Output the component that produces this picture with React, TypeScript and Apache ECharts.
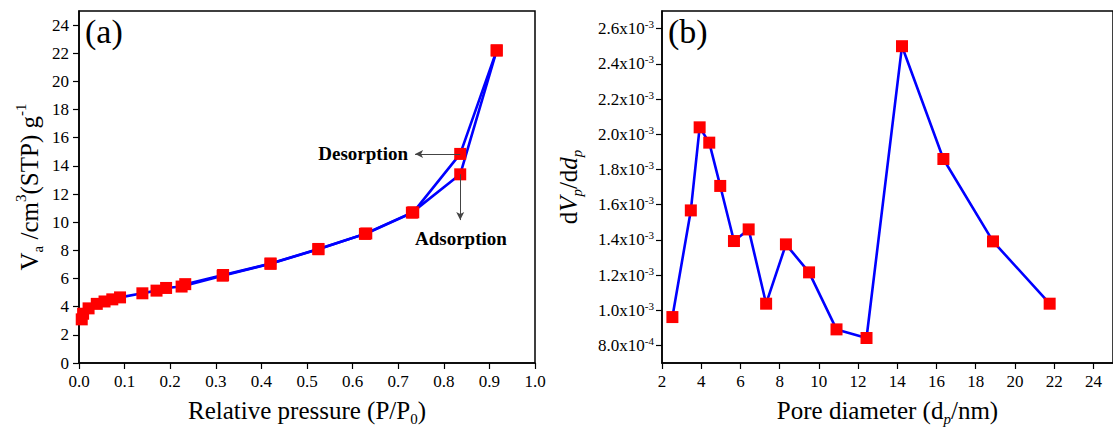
import React, { useEffect, useRef } from 'react';
import * as echarts from 'echarts';

// Panel (a): N2 isotherm, [P/P0, Va]
const adsorption: [number, number][] = [
  [0.006, 3.1], [0.009, 3.5], [0.021, 3.88], [0.039, 4.2], [0.056, 4.37], [0.073, 4.52],
  [0.09, 4.66], [0.139, 4.95], [0.17, 5.14], [0.191, 5.33], [0.225, 5.43], [0.315, 6.2],
  [0.42, 7.05], [0.525, 8.08], [0.627, 9.17], [0.73, 10.68], [0.836, 13.4], [0.916, 22.2],
];
const desorption: [number, number][] = [
  [0.916, 22.2], [0.836, 14.85], [0.733, 10.7], [0.63, 9.2], [0.525, 8.1], [0.42, 7.06],
  [0.316, 6.25], [0.233, 5.6],
];
// Panel (b): pore size distribution
const poreDiameter: number[] = [2.53, 3.47, 3.92, 4.41, 4.97, 5.67, 6.42, 7.31, 8.32, 9.5, 10.9, 12.43, 14.24, 16.35, 18.88, 21.77];
const dVdd: number[] = [0.000961, 0.001567, 0.002039, 0.001952, 0.001706, 0.001393, 0.001459, 0.001037, 0.001374, 0.001215, 0.000891, 0.000842, 0.0025, 0.001859, 0.001391, 0.001037];

const yTicksA: number[] = [0, 2, 4, 6, 8, 10, 12, 14, 16, 18, 20, 22, 24];
const xTicksB: number[] = [2, 4, 6, 8, 10, 12, 14, 16, 18, 20, 22, 24];
const yTicksB: number[] = [0.0008, 0.001, 0.0012, 0.0014, 0.0016, 0.0018, 0.002, 0.0022, 0.0024, 0.0026];

const desorptionArrow = { from: [0.836, 14.85], to: [0.737, 14.85] };
const adsorptionArrow = { from: [0.836, 13.4], to: [0.836, 10.15] };

const FONT = 'Liberation Serif, serif';
const BLUE = '#0000ff';
const RED = '#ff0000';

const axisCommon = {
  axisLine: { show: true, onZero: false, lineStyle: { color: '#000', width: 1.5 } },
  axisTick: { show: true, inside: false, length: 6, lineStyle: { color: '#000', width: 1.2 } },
  splitLine: { show: false },
};

const NS = 25;
const SS = 15;
const LH = 32;
const nameRich = {
  m: { fontFamily: FONT, fontSize: NS, color: '#000', lineHeight: LH },
  i: { fontFamily: FONT, fontSize: NS, color: '#000', fontStyle: 'italic', lineHeight: LH },
  sub: { fontFamily: FONT, fontSize: SS, color: '#000', verticalAlign: 'bottom', lineHeight: LH },
  subi: { fontFamily: FONT, fontSize: SS, color: '#000', fontStyle: 'italic', verticalAlign: 'bottom', lineHeight: LH },
  sup: { fontFamily: FONT, fontSize: SS, color: '#000', verticalAlign: 'top', lineHeight: LH },
};

function sci(v: number): string {
  const e = Math.floor(Math.log10(v) + 1e-9);
  const m = v / Math.pow(10, e);
  return `{m|${m.toFixed(1)}x10}{s|${e}}`;
}

export default function App() {
  const ref = useRef<HTMLDivElement>(null);
  useEffect(() => {
    document.body.style.margin = '0';
    const chart = echarts.init(ref.current!, null, { renderer: 'svg' });
    const lineSeries = (name: string, data: any, xi: number) => ({
      name,
      type: 'line',
      xAxisIndex: xi,
      yAxisIndex: xi,
      data,
      symbol: 'rect',
      symbolSize: 12,
      itemStyle: { color: RED },
      lineStyle: { color: BLUE, width: 2.6 },
      z: 3,
    });
    const arrowLine = (a: { from: number[]; to: number[] }) => [{ coord: a.from }, { coord: a.to }];
    const tickLabel = { fontFamily: FONT, fontSize: 17, color: '#000' };
    const arrowMark = (a: { from: number[]; to: number[] }) => ({
      silent: true,
      symbol: ['none', 'arrow'],
      symbolSize: [6, 8],
      label: { show: false },
      lineStyle: { color: '#444', width: 1, type: 'solid' },
      data: [arrowLine(a)],
    });
    chart.setOption({
      animation: false,
      textStyle: { fontFamily: FONT },
      grid: [
        { left: 79, right: 578, top: 11, bottom: 69, show: true, borderColor: '#000', borderWidth: 1.5, containLabel: false },
        { left: 662, right: -7, top: 11, bottom: 69, show: true, borderColor: '#000', borderWidth: 1.5, containLabel: false },
      ],
      xAxis: [
        {
          ...axisCommon,
          gridIndex: 0,
          type: 'value',
          min: 0,
          max: 1,
          interval: 0.1,
          axisLabel: { ...tickLabel, margin: 10, formatter: (v: number) => v.toFixed(1) },
          name: '{m|Relative pressure (P/P}{sub|0}{m|)}',
          nameLocation: 'middle',
          nameGap: 31,
          nameTextStyle: { fontFamily: FONT, rich: nameRich },
        },
        {
          ...axisCommon,
          gridIndex: 1,
          type: 'value',
          min: 2,
          max: 25,
          axisLabel: { ...tickLabel, margin: 10, customValues: xTicksB },
          axisTick: { ...axisCommon.axisTick, customValues: xTicksB },
          name: '{m|Pore diameter (d}{subi|p}{m|/nm)}',
          nameLocation: 'middle',
          nameGap: 31,
          nameTextStyle: { fontFamily: FONT, rich: nameRich },
        },
      ],
      yAxis: [
        {
          ...axisCommon,
          gridIndex: 0,
          type: 'value',
          min: 0,
          max: 25,
          axisLabel: { ...tickLabel, margin: 10, customValues: yTicksA },
          axisTick: { ...axisCommon.axisTick, customValues: yTicksA },
          name: '{m|V}{sub|a}{m| /cm}{sup|3}{m|(STP) g}{sup|-1}',
          nameLocation: 'middle',
          nameGap: 34,
          nameRotate: 90,
          nameTextStyle: { fontFamily: FONT, rich: nameRich },
        },
        {
          ...axisCommon,
          gridIndex: 1,
          type: 'value',
          min: 0.0007,
          max: 0.0027,
          axisLabel: {
            fontFamily: FONT,
            color: '#000',
            margin: 8,
            customValues: yTicksB,
            formatter: (v: number) => sci(v),
            rich: {
              m: { fontFamily: FONT, fontSize: 17, color: '#000', lineHeight: 20 },
              s: { fontFamily: FONT, fontSize: 11, color: '#000', verticalAlign: 'top', lineHeight: 20 },
            },
          },
          axisTick: { ...axisCommon.axisTick, customValues: yTicksB },
          name: '{m|d}{i|V}{subi|p}{m|/d}{i|d}{subi|p}',
          nameLocation: 'middle',
          nameGap: 78,
          nameRotate: 90,
          nameTextStyle: { fontFamily: FONT, rich: nameRich },
        },
      ],
      series: [
        { ...lineSeries('Adsorption', adsorption, 0), markLine: arrowMark(adsorptionArrow) },
        { ...lineSeries('Desorption', desorption, 0), markLine: arrowMark(desorptionArrow) },
        lineSeries('dV/dd', poreDiameter.map((d, i) => [d, dVdd[i]]), 1),
      ],
      graphic: [
        { type: 'text', left: 85, top: 14, style: { text: '(a)', font: `34px ${FONT}`, fill: '#000' } },
        { type: 'text', left: 668, top: 14, style: { text: '(b)', font: `34px ${FONT}`, fill: '#000' } },
        { type: 'text', x: 408, y: 153, style: { text: 'Desorption', font: `bold 19px ${FONT}`, fill: '#000', align: 'right', verticalAlign: 'middle' } },
        { type: 'text', x: 415, y: 238, style: { text: 'Adsorption', font: `bold 19px ${FONT}`, fill: '#000', align: 'left', verticalAlign: 'middle' } },
      ],
    });
    return () => chart.dispose();
  }, []);
  return <div ref={ref} style={{ width: 1113, height: 432 }} />;
}
